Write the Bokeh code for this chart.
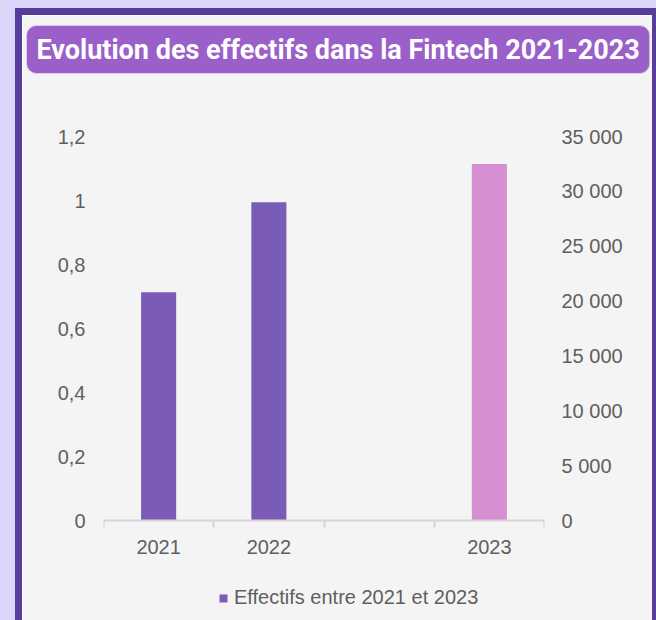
from bokeh.plotting import figure
from bokeh.models import (Range1d, LinearAxis, FixedTicker, Title,
                          Legend, LegendItem, ColumnDataSource)
from bokeh.embed import file_html
from bokeh.resources import INLINE

# ---- data ----
title_text = "Evolution des effectifs dans la Fintech 2021-2023"
slots = ["2021", "2022", "", "2023"]          # category slots on the x axis
years = ["2021", "2022", "2023"]
effectifs = [20800, 29000, 32500]
bar_colors = ["#7a5cb8", "#7a5cb8", "#d78fd4"]
legend_label = "Effectifs entre 2021 et 2023"
left_ticks = [0, 0.2, 0.4, 0.6, 0.8, 1, 1.2]
left_labels = ["0", "0,2", "0,4", "0,6", "0,8", "1", "1,2"]
right_ticks = [0, 5000, 10000, 15000, 20000, 25000, 30000, 35000]
right_labels = ["0", "5 000", "10 000", "15 000", "20 000", "25 000", "30 000", "35 000"]

# ---- style ----
W, H = 630, 605
LAVENDER = "#dbd5fa"
BORDER = "#573d9b"
PANEL = "#f4f4f4"
TITLE_BG = "#9b5fc9"
TEXT = "#5f5f5f"
FONT = "Liberation Sans"
TOP = 121                  # space above the plotting area
AXIS_PX = 384              # height of the 0..max span
PAD = (H - TOP - AXIS_PX) / AXIS_PX   # room kept under zero for labels and legend

p = figure(width=W, height=H, output_backend="svg", toolbar_location=None, title=None,
           x_axis_location="above",
           x_range=Range1d(0, len(slots)),
           y_range=Range1d(-left_ticks[-1] * PAD, left_ticks[-1]),
           min_border_left=81, min_border_right=108, min_border_top=TOP, min_border_bottom=0,
           background_fill_color=PANEL, border_fill_color=PANEL, outline_line_color=None)
# slide frame: purple border and lavender surround
p.styles = {"margin-left": "22px", "margin-top": "15px",
            "box-shadow": f"0 0 0 7px {BORDER}, 0 0 0 40px {LAVENDER}"}
p.extra_y_ranges = {"eff": Range1d(-right_ticks[-1] * PAD, right_ticks[-1])}
p.xgrid.visible = False
p.ygrid.visible = False

# ---- bars ----
src = ColumnDataSource(dict(
    x=[slots.index(y) + 0.5 for y in years],
    top=effectifs,
    color=bar_colors,
))
r = p.vbar(x="x", top="top", bottom=0, width=0.318, source=src,
           fill_color="color", line_color=None, y_range_name="eff")

# ---- category axis, drawn on the zero line ----
xa = p.xaxis[0]
xa.fixed_location = 0
xa.ticker = FixedTicker(ticks=[slots.index(y) + 0.5 for y in years],
                        minor_ticks=list(range(len(slots) + 1)))
xa.major_label_overrides = {slots.index(y) + 0.5: y for y in years}
xa.major_tick_line_color = None
xa.major_tick_out = 0
xa.major_tick_in = 0
xa.minor_tick_line_color = "#d4d4d4"
xa.minor_tick_line_width = 2
xa.minor_tick_out = 0
xa.minor_tick_in = 7
xa.axis_line_color = "#d4d4d4"
xa.axis_line_width = 2
xa.major_label_standoff = -33
xa.axis_label = " "
xa.axis_label_standoff = 0
xa.axis_label_text_font_size = "10px"
xa.major_label_text_font = FONT
xa.major_label_text_font_size = "20px"
xa.major_label_text_color = TEXT

# ---- title banner (spacer first: nearest the frame) ----
p.add_layout(Title(text=" ", text_font_size="10px", standoff=50), "above")
title = Title(text=title_text, align="left", offset=-77, standoff=0,
              text_color="white", text_font="Roboto",
              text_font_style="bold", text_font_size="27px",
              background_fill_color=TITLE_BG, border_line_color="#dccbf0",
              border_radius=10)
try:
    title.padding = dict(left=10, right=10, top=8, bottom=8)
except Exception:
    title.padding = 8
p.add_layout(title, "above")

# ---- value axes ----
ya = p.yaxis[0]
ya.ticker = FixedTicker(ticks=left_ticks)
ya.major_label_overrides = dict(zip(left_ticks, left_labels))

yr = LinearAxis(y_range_name="eff")
yr.ticker = FixedTicker(ticks=right_ticks)
yr.major_label_overrides = dict(zip(right_ticks, right_labels))
p.add_layout(yr, "right")

for ax, so in ((ya, 18), (yr, 17)):
    ax.axis_line_color = None
    ax.major_tick_line_color = None
    ax.minor_tick_line_color = None
    ax.major_tick_out = 0
    ax.major_tick_in = 0
    ax.major_label_standoff = so
    ax.major_label_text_font = FONT
    ax.major_label_text_font_size = "20px"
    ax.major_label_text_color = TEXT

# ---- legend ----
legend = Legend(items=[LegendItem(label=legend_label, renderers=[r], index=0)],
                location=(115, 11), orientation="horizontal", padding=0, margin=0,
                border_line_color=None, background_fill_alpha=0,
                glyph_width=10, glyph_height=10, label_standoff=6, label_height=10,
                label_text_font=FONT, label_text_font_size="20px", label_text_color=TEXT)
p.add_layout(legend, "center")

open("out.html", "w").write(file_html(p, INLINE))
